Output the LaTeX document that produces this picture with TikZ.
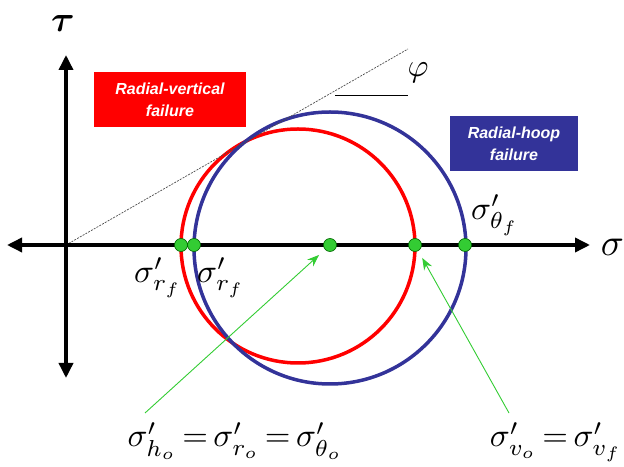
\documentclass[tikz,border=0pt]{standalone}
\usepackage{amsmath,bm}
\usepackage{fontspec}
\setsansfont{Liberation Sans}
\usetikzlibrary{arrows.meta}

\definecolor{hoopblue}{RGB}{51,51,153}
\definecolor{dotgreen}{RGB}{51,204,51}
\tikzset{
  mohrdot/.style={circle, draw=green!40!black, line width=0.6pt, fill=dotgreen, inner sep=0pt, minimum size=13pt},
  failbox/.style={text=white, font=\sffamily\bfseries\itshape\fontsize{16}{22}\selectfont, align=center, inner sep=0pt, minimum height=55pt},
  stresslab/.style={scale=3.3, transform shape, inner sep=0pt},
  axisline/.style={line width=3.5pt, {Triangle[length=15pt,width=14pt]}-{Triangle[length=15pt,width=14pt]}},
  pointer/.style={->, dotgreen, line width=0.9pt, shorten >=8pt},
}

\begin{document}
\begin{tikzpicture}[x=1pt, y=1pt, >={Stealth[length=12pt,width=9pt]}]
    \useasboundingbox (0,0) rectangle (624,466);

    % Mohr circles: radial-vertical (red) and radial-hoop (blue)
    \draw[red, line width=3.5pt] (298,220) circle[radius=117];
    \draw[hoopblue, line width=3.5pt] (330,218) circle[radius=136];

    % failure envelope
    \draw[gray!60!black, line width=0.7pt, dash pattern=on 2pt off 1.2pt] (66,221) -- (408,417);
    \draw[line width=0.7pt] (335,371) -- (408,371);
    \node[scale=3.2, transform shape] (phi) at (418,393) {$\varphi$};

    % axes
    \draw[axisline] (7,221) -- (590,221);
    \draw[axisline] (66,88) -- (66,411);
    \node[anchor=base west, scale=3.8, transform shape, inner sep=0pt] (sig) at (600,210) {$\sigma$};
    \node[anchor=base, scale=3.6, transform shape, inner sep=0pt] (tau) at (63,434) {$\bm{\tau}$};

    % boxes
    \node[failbox, fill=red, minimum width=152pt] (rvbox) at (170,366.5) {Radial-vertical\\failure};
    \node[failbox, fill=hoopblue, minimum width=128pt] (rhbox) at (514,322.5) {Radial-hoop\\failure};

    % stress points
    \node[mohrdot] (dotRv) at (181,221) {};
    \node[mohrdot] (dotRh) at (194,221) {};
    \node[mohrdot] (dotC) at (330,221) {};
    \node[mohrdot] (dotV) at (415,221) {};
    \node[mohrdot] (dotT) at (465,221) {};

    \node[stresslab, anchor=north] (lrv) at (158,209) {$\sigma'_{r_f}$};
    \node[stresslab, anchor=north] (lrh) at (221,209) {$\sigma'_{r_f}$};
    \node[stresslab] (lth) at (495,251) {$\sigma'_{\theta_f}$};

    \node[stresslab, anchor=base] (linit) at (235,19) {$\thickmuskip=3mu \sigma'_{h_o}=\sigma'_{r_o}=\sigma'_{\theta_o}$};
    \node[stresslab, anchor=base] (lvert) at (556,19) {$\thickmuskip=3mu \sigma'_{v_o}=\sigma'_{v_f}$};

    \coordinate (tailC) at (145,53);
    \coordinate (tailV) at (509,53);
    \draw[pointer] (tailC) -- (dotC);
    \draw[pointer] (tailV) -- (dotV);
\end{tikzpicture}
\end{document}
